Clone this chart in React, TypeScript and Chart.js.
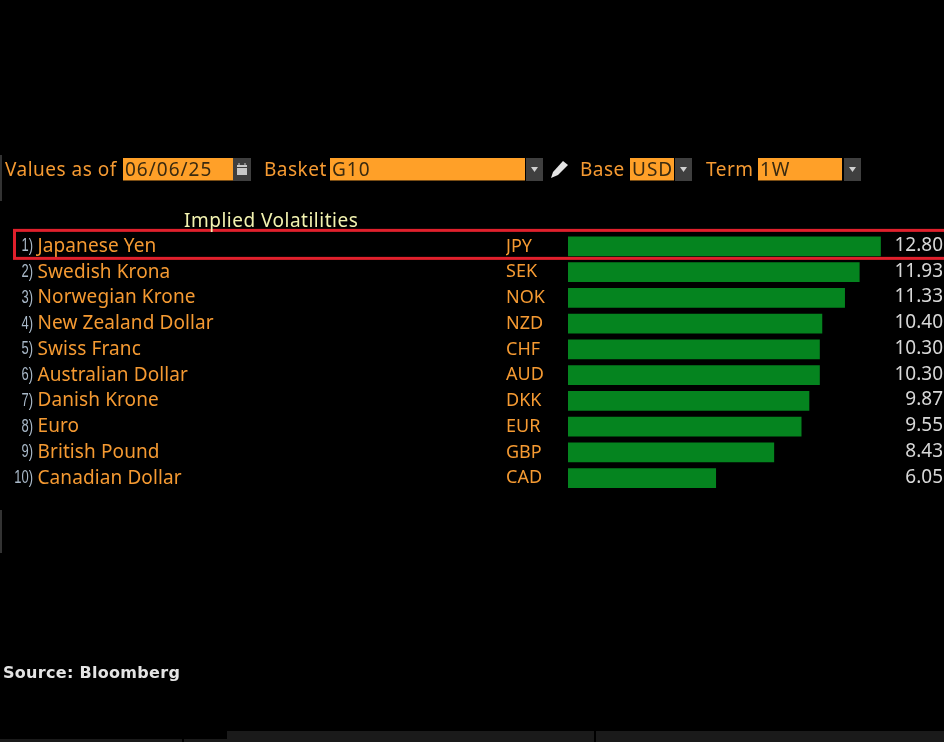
import React, { useEffect, useRef } from "react";
import { Chart, registerables } from "chart.js";

Chart.register(...registerables);

const currencyNames = ["Japanese Yen", "Swedish Krona", "Norwegian Krone", "New Zealand Dollar", "Swiss Franc", "Australian Dollar", "Danish Krone", "Euro", "British Pound", "Canadian Dollar"];
const currencyCodes = ["JPY", "SEK", "NOK", "NZD", "CHF", "AUD", "DKK", "EUR", "GBP", "CAD"];
const impliedVols = [12.8, 11.93, 11.33, 10.4, 10.3, 10.3, 9.87, 9.55, 8.43, 6.05];
const valueLabels = ["12.80", "11.93", "11.33", "10.40", "10.30", "10.30", "9.87", "9.55", "8.43", "6.05"];

const ORANGE = "#f59a32";
const FIELD = "#ffa028";
const FONT = '"Noto Sans", sans-serif';

const rowText = {
  id: "rowText",
  afterDatasetsDraw(chart: any) {
    const { ctx, scales } = chart;
    const y = scales.y;
    ctx.save();
    ctx.textBaseline = "middle";
    currencyNames.forEach((name, i) => {
      const py = y.getPixelForValue(i);
      ctx.font = `19px ${FONT}`;
      ctx.letterSpacing = "0.1px";
      ctx.fillStyle = ORANGE;
      ctx.textAlign = "left";
      ctx.fillText(name, 37.5, py);
      ctx.letterSpacing = "0px";
      ctx.fillStyle = "#d8d8d8";
      ctx.textAlign = "right";
      ctx.fillText(valueLabels[i], 943, py - 1);
      ctx.save();
      ctx.translate(33, py);
      ctx.scale(0.72, 1);
      ctx.font = `18px "Liberation Sans", sans-serif`;
      ctx.fillStyle = "#a9b9c9";
      ctx.fillText(`${i + 1})`, 0, 0);
      ctx.restore();
    });
    const top = y.getPixelForValue(0) - 16;
    ctx.strokeStyle = "#e0202c";
    ctx.lineWidth = 3;
    ctx.strokeRect(14.5, top, 935, 28);
    ctx.restore();
  },
};

const label = (text: string, left: number, top = 156, extra: any = {}) => (
  <div style={{ position: "absolute", left, top, font: `19px ${FONT}`, letterSpacing: "0.5px", lineHeight: "26px", color: ORANGE, whiteSpace: "nowrap", ...extra }}>{text}</div>
);
const field = (text: string, left: number, width: number) => (
  <div style={{ position: "absolute", left, top: 158, width, height: 23, background: FIELD, borderBottom: "1px solid #7a4d14", color: "#3a2a10", font: `19px ${FONT}`, letterSpacing: "1px", lineHeight: "22px", paddingLeft: 2, boxSizing: "border-box", whiteSpace: "nowrap" }}>{text}</div>
);
const arrow = (left: number) => (
  <div style={{ position: "absolute", left, top: 158, width: 17, height: 23, background: "#3f3f3f" }}>
    <svg width="17" height="23"><path d="M5 9h7l-3.5 5z" fill="#d0d0d0" /></svg>
  </div>
);

export default function App() {
  const ref = useRef<HTMLCanvasElement>(null);
  useEffect(() => {
    const chart = new Chart(ref.current as HTMLCanvasElement, {
      type: "bar",
      data: {
        labels: currencyCodes,
        datasets: [{ data: impliedVols, backgroundColor: "#05841f", borderWidth: 0, barThickness: 19 }],
      },
      plugins: [rowText],
      options: {
        indexAxis: "y",
        responsive: false,
        animation: false,
        devicePixelRatio: 1,
        layout: { padding: { left: 506, right: 0, top: 233.5, bottom: 251 } },
        plugins: { legend: { display: false }, tooltip: { enabled: false }, title: { display: false } },
        scales: {
          x: { display: false, min: 0, max: 15.4 },
          y: {
            afterFit(scale: any) { scale.width = 62; },
            border: { display: false },
            grid: { display: false, drawTicks: false },
            ticks: { crossAlign: "far", color: ORANGE, padding: 0, font: { family: "Noto Sans", size: 18 } },
          },
        },
      } as any,
    });
    return () => chart.destroy();
  }, []);

  return (
    <div style={{ position: "fixed", left: 0, top: 0, width: 944, height: 742, background: "#000", overflow: "hidden" }}>
      <canvas ref={ref} width={944} height={742} style={{ position: "absolute", left: 0, top: 0, display: "block" }} />
      <div style={{ position: "absolute", left: 0, top: 155, width: 2, height: 46, background: "#333" }} />
      <div style={{ position: "absolute", left: 0, top: 510, width: 2, height: 43, background: "#333" }} />
      {label("Values as of", 5)}
      {field("06/06/25", 123, 110)}
      <div style={{ position: "absolute", left: 233, top: 158, width: 18, height: 23, background: "#3f3f3f" }}>
        <svg width="18" height="23"><path d="M4 7h10v10H4z" fill="#c8c8c8" /><path d="M4 9.5h10" stroke="#3f3f3f" /><path d="M6 5v3M12 5v3" stroke="#c8c8c8" /></svg>
      </div>
      {label("Basket", 264)}
      {field("G10", 330, 195)}
      {arrow(526)}
      <svg style={{ position: "absolute", left: 549, top: 159 }} width="20" height="20"><path d="M2 19l2-6L14 2l5 4-10 10z" fill="#e4e4e4" /></svg>
      {label("Base", 580)}
      {field("USD", 630, 44)}
      {arrow(675)}
      {label("Term", 706)}
      {field("1W", 758, 84)}
      {arrow(844)}
      {label("Implied Volatilities", 184, 207, { color: "#f3f3b0", letterSpacing: "0.5px" })}
      <div style={{ position: "absolute", left: 3, top: 662, font: `bold 16px "DejaVu Sans", sans-serif`, letterSpacing: "0.3px", color: "#e4e4e4", lineHeight: "22px", whiteSpace: "nowrap" }}>Source: Bloomberg</div>
      <div style={{ position: "absolute", left: 0, top: 739, width: 182, height: 3, background: "#1a1a1a" }} />
      <div style={{ position: "absolute", left: 184, top: 739, width: 43, height: 3, background: "#1a1a1a" }} />
      <div style={{ position: "absolute", left: 227, top: 731, width: 367, height: 11, background: "#1a1a1a" }} />
      <div style={{ position: "absolute", left: 596, top: 731, width: 348, height: 11, background: "#1a1a1a" }} />
    </div>
  );
}
